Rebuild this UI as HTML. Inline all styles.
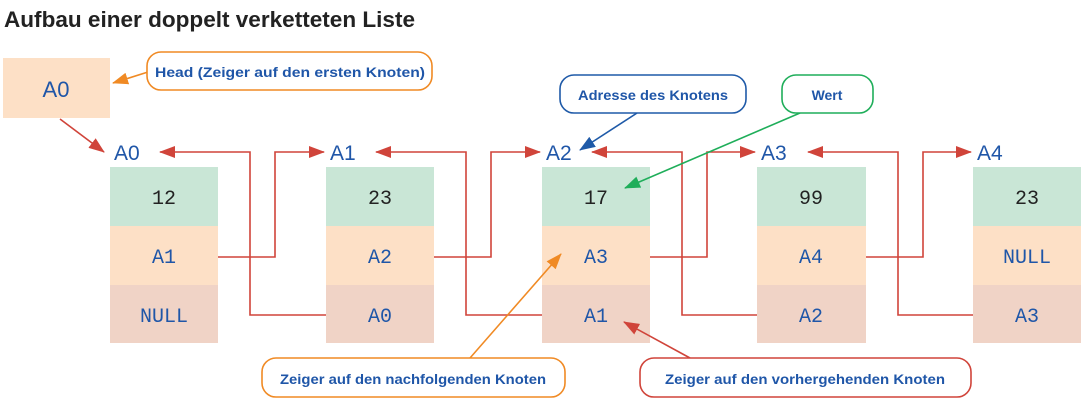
<!DOCTYPE html>
<html><head><meta charset="utf-8"><style>
body{margin:0;background:#fff;width:1091px;height:407px;overflow:hidden;font-family:"Liberation Sans",sans-serif}
</style></head><body>
<svg width="1091" height="407" xmlns="http://www.w3.org/2000/svg">
<defs>
<marker id="rb" markerWidth="16" markerHeight="12" refX="15" refY="6" orient="auto" markerUnits="userSpaceOnUse"><path d="M0,0 L16,6 L0,12 z" fill="#d0443a"/></marker>
<marker id="o" markerWidth="16" markerHeight="12" refX="15" refY="6" orient="auto" markerUnits="userSpaceOnUse"><path d="M0,0 L16,6 L0,12 z" fill="#f08a24"/></marker>
<marker id="b" markerWidth="16" markerHeight="12" refX="15" refY="6" orient="auto" markerUnits="userSpaceOnUse"><path d="M0,0 L16,6 L0,12 z" fill="#1f5aa8"/></marker>
<marker id="g" markerWidth="16" markerHeight="12" refX="15" refY="6" orient="auto" markerUnits="userSpaceOnUse"><path d="M0,0 L16,6 L0,12 z" fill="#1fae5a"/></marker>
</defs>
<text x="4" y="27" font-size="22" font-weight="bold" fill="#222" textLength="411" lengthAdjust="spacingAndGlyphs">Aufbau einer doppelt verketteten Liste</text>
<rect x="3" y="58" width="107" height="60" fill="#fde0c6"/>
<text x="56" y="97" font-size="22" fill="#1f56a8" text-anchor="middle">A0</text>
<g font-family="Liberation Mono,monospace" font-size="20" text-anchor="middle">
<rect x="110" y="167" width="108" height="59" fill="#c9e6d6"/><rect x="110" y="226" width="108" height="59" fill="#fde0c6"/><rect x="110" y="285" width="108" height="58" fill="#f0d3c6"/>
<rect x="326" y="167" width="108" height="59" fill="#c9e6d6"/><rect x="326" y="226" width="108" height="59" fill="#fde0c6"/><rect x="326" y="285" width="108" height="58" fill="#f0d3c6"/>
<rect x="542" y="167" width="108" height="59" fill="#c9e6d6"/><rect x="542" y="226" width="108" height="59" fill="#fde0c6"/><rect x="542" y="285" width="108" height="58" fill="#f0d3c6"/>
<rect x="757" y="167" width="109" height="59" fill="#c9e6d6"/><rect x="757" y="226" width="109" height="59" fill="#fde0c6"/><rect x="757" y="285" width="109" height="58" fill="#f0d3c6"/>
<rect x="973" y="167" width="108" height="59" fill="#c9e6d6"/><rect x="973" y="226" width="108" height="59" fill="#fde0c6"/><rect x="973" y="285" width="108" height="58" fill="#f0d3c6"/>
<g fill="#222"><text x="164" y="204">12</text><text x="380" y="204">23</text><text x="596" y="204">17</text><text x="811" y="204">99</text><text x="1027" y="204">23</text></g>
<g fill="#1f56a8"><text x="164" y="263">A1</text><text x="380" y="263">A2</text><text x="596" y="263">A3</text><text x="811" y="263">A4</text><text x="1027" y="263">NULL</text>
<text x="164" y="322">NULL</text><text x="380" y="322">A0</text><text x="596" y="322">A1</text><text x="811" y="322">A2</text><text x="1027" y="322">A3</text></g>
</g>
<g font-size="21" fill="#1f56a8"><text x="114" y="160">A0</text><text x="330" y="160">A1</text><text x="546" y="160">A2</text><text x="761" y="160">A3</text><text x="977" y="160">A4</text></g>
<g fill="none" stroke="#d0443a" stroke-width="1.6">
<polyline points="218,257 275,257 275,152 324,152" marker-end="url(#rb)"/>
<polyline points="434,257 491,257 491,152 540,152" marker-end="url(#rb)"/>
<polyline points="650,257 707,257 707,152 755,152" marker-end="url(#rb)"/>
<polyline points="866,257 923,257 923,152 971,152" marker-end="url(#rb)"/>
<polyline points="326,315 250,315 250,152 160,152" marker-end="url(#rb)"/>
<polyline points="542,315 466,315 466,152 376,152" marker-end="url(#rb)"/>
<polyline points="757,315 682,315 682,152 592,152" marker-end="url(#rb)"/>
<polyline points="973,315 898,315 898,152 808,152" marker-end="url(#rb)"/>
<line x1="60" y1="119" x2="104" y2="152" marker-end="url(#rb)"/>
<line x1="690" y1="358" x2="624" y2="322" marker-end="url(#rb)"/>
</g>
<line x1="148" y1="72" x2="113" y2="83" stroke="#f08a24" stroke-width="1.6" marker-end="url(#o)"/>
<line x1="470" y1="358" x2="561" y2="254" stroke="#f08a24" stroke-width="1.6" marker-end="url(#o)"/>
<line x1="637" y1="113" x2="580" y2="150" stroke="#1f5aa8" stroke-width="1.6" marker-end="url(#b)"/>
<line x1="800" y1="113" x2="625" y2="188" stroke="#1fae5a" stroke-width="1.6" marker-end="url(#g)"/>
<g fill="#fff" stroke-width="1.6">
<rect x="147" y="52" width="285" height="38" rx="14" stroke="#f08a24"/>
<rect x="560" y="75" width="186" height="38" rx="14" stroke="#1f5aa8"/>
<rect x="782" y="75" width="91" height="38" rx="14" stroke="#1fae5a"/>
<rect x="262" y="358" width="303" height="39" rx="14" stroke="#f08a24"/>
<rect x="640" y="358" width="331" height="39" rx="14" stroke="#d0443a"/>
</g>
<g font-size="14" font-weight="bold" fill="#1f56a8" text-anchor="middle">
<text x="290" y="77" textLength="270" lengthAdjust="spacingAndGlyphs">Head (Zeiger auf den ersten Knoten)</text>
<text x="653" y="100" textLength="150" lengthAdjust="spacingAndGlyphs">Adresse des Knotens</text>
<text x="827" y="100">Wert</text>
<text x="413" y="384" textLength="266" lengthAdjust="spacingAndGlyphs">Zeiger auf den nachfolgenden Knoten</text>
<text x="805" y="384" textLength="280" lengthAdjust="spacingAndGlyphs">Zeiger auf den vorhergehenden Knoten</text>
</g>
</svg>
</body></html>
